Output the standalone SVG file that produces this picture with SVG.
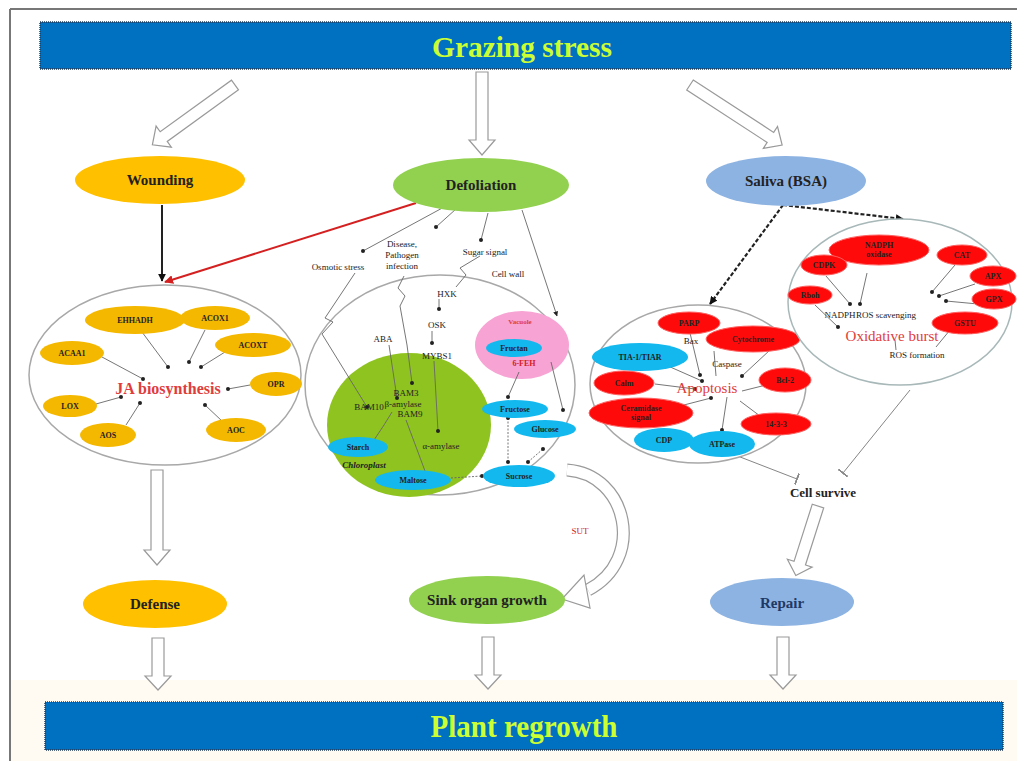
<svg xmlns="http://www.w3.org/2000/svg" width="1017" height="761" viewBox="0 0 1017 761">
<defs>
<style>
.bar{fill:#0070c0;stroke:#1f3b5c;stroke-width:1.5;stroke-dasharray:1 1}
.title{font-family:"Liberation Serif",serif;font-weight:bold;fill:#ccff33;text-anchor:middle}
.hollow{fill:#fff;stroke:#9a9a9a;stroke-width:1.2}
.big{fill:#fff;stroke:#a8a8a8;stroke-width:1.5}
.lbl{font-family:"Liberation Serif",serif;font-weight:bold;text-anchor:middle;fill:#222}
.node{font-size:15px}
.sm{font-size:8px}
.tx{font-family:"Liberation Serif",serif;font-size:9px;text-anchor:middle;fill:#222}
.red{font-family:"Liberation Serif",serif;font-weight:bold;text-anchor:middle;fill:#e03c3c}
.org{fill:#f5b800}
.rd{fill:#ff0a0a;stroke:#ff6060;stroke-width:1}
.bl{fill:#12b8ee}
.ln{stroke:#666;stroke-width:0.9;fill:none}
.lnd{stroke:#666;stroke-width:0.9;fill:none;marker-end:url(#dot)}
.lnt{stroke:#777;stroke-width:0.9;fill:none;marker-end:url(#tee)}
</style>
<marker id="dot" viewBox="0 0 6 6" refX="3" refY="3" markerWidth="4" markerHeight="4" markerUnits="userSpaceOnUse"><circle cx="3" cy="3" r="3" fill="#222"/></marker>
<marker id="tee" viewBox="0 0 2 12" refX="1" refY="6" markerWidth="2" markerHeight="12" orient="auto" markerUnits="userSpaceOnUse"><rect x="0" y="0" width="2" height="12" fill="#888"/></marker>
<marker id="arr" viewBox="0 0 10 10" refX="9" refY="5" markerWidth="8" markerHeight="8" orient="auto" markerUnits="userSpaceOnUse"><path d="M0,0 L10,5 L0,10 z" fill="#111"/></marker>
<marker id="arrR" viewBox="0 0 10 10" refX="9" refY="5" markerWidth="9" markerHeight="9" orient="auto" markerUnits="userSpaceOnUse"><path d="M0,0 L10,5 L0,10 z" fill="#d42020"/></marker>
<marker id="arrS" viewBox="0 0 10 10" refX="9" refY="5" markerWidth="5" markerHeight="5" orient="auto" markerUnits="userSpaceOnUse"><path d="M0,0 L10,5 L0,10 z" fill="#222"/></marker>
</defs>
<rect x="0" y="0" width="1017" height="761" fill="#fff"/>
<rect x="10" y="680" width="1007" height="81" fill="#fffaf2"/>
<line x1="10" y1="9" x2="1017" y2="9" stroke="#777" stroke-width="2"/>
<line x1="10" y1="9" x2="10" y2="761" stroke="#777" stroke-width="2"/>

<g id="grazing-stress">
<rect class="bar" x="40" y="22" width="971" height="47"/>
<text class="title" x="522" y="57" font-size="30" textLength="180" lengthAdjust="spacingAndGlyphs">Grazing stress</text>
</g>
<g id="plant-regrowth">
<rect class="bar" x="45" y="702" width="958" height="48"/>
<text class="title" x="524" y="737" font-size="31" textLength="187" lengthAdjust="spacingAndGlyphs">Plant regrowth</text>
</g>

<g id="connectors">
<path class="hollow" transform="translate(235,85) rotate(144.1)" d="M0,-6 H88 V-13 L102,0 L88,13 V6 H0 Z"/>
<path class="hollow" transform="translate(482,72) rotate(90)" d="M0,-6 H68 V-13 L83,0 L68,13 V6 H0 Z"/>
<path class="hollow" transform="translate(690,85) rotate(33.1)" d="M0,-6 H96 V-13 L110,0 L96,13 V6 H0 Z"/>
<path class="hollow" transform="translate(157,470) rotate(90)" d="M0,-6 H80 V-13 L95,0 L80,13 V6 H0 Z"/>
<path class="hollow" transform="translate(158,638) rotate(90)" d="M0,-6 H38 V-13 L52,0 L38,13 V6 H0 Z"/>
<path class="hollow" transform="translate(488,637) rotate(90)" d="M0,-6 H38 V-13 L52,0 L38,13 V6 H0 Z"/>
<path class="hollow" transform="translate(783,637) rotate(90)" d="M0,-6 H38 V-13 L52,0 L38,13 V6 H0 Z"/>
<path class="hollow" transform="translate(818,506) rotate(107.7)" d="M0,-6 H60 V-13 L73,0 L60,13 V6 H0 Z"/>
<path d="M567,470 C628,474 646,560 588,590" fill="none" stroke="#9a9a9a" stroke-width="13"/>
<path d="M567,470 C628,474 646,560 588,590" fill="none" stroke="#fff" stroke-width="10.6"/>
<polygon class="hollow" points="584,575 590,608 562,599"/>
<line x1="162" y1="205" x2="162" y2="281" stroke="#222" stroke-width="2" marker-end="url(#arr)"/>
<line x1="416" y1="203" x2="165" y2="282" stroke="#d42020" stroke-width="2" marker-end="url(#arrR)"/>
<line x1="783" y1="205" x2="710" y2="304" stroke="#222" stroke-width="2.2" stroke-dasharray="4 2" marker-end="url(#arr)"/>
<line x1="783" y1="205" x2="903" y2="219" stroke="#222" stroke-width="2.2" stroke-dasharray="4 2" marker-end="url(#arr)"/>
<line class="lnd" x1="446" y1="206" x2="363" y2="251"/>
<line class="lnd" x1="456" y1="209" x2="436" y2="227"/>
<line class="lnd" x1="488" y1="213" x2="481" y2="240"/>
<line class="ln" x1="522" y1="210" x2="557" y2="316" marker-end="url(#arrS)"/>
<line class="lnt" x1="735" y1="455" x2="797" y2="479"/>
<line class="lnt" x1="910" y1="390" x2="843" y2="473"/>
</g>

<g id="wounding"><ellipse cx="160" cy="180" rx="85" ry="24" fill="#ffc000"/><text class="lbl node" x="160" y="185">Wounding</text></g>
<g id="defoliation"><ellipse cx="481" cy="185" rx="88" ry="27" fill="#92d050"/><text class="lbl node" x="481" y="190">Defoliation</text></g>
<g id="saliva"><ellipse cx="786" cy="181" rx="80" ry="25" fill="#8db3e2"/><text class="lbl node" x="786" y="186">Saliva (BSA)</text></g>
<g id="defense"><ellipse cx="155" cy="604" rx="72" ry="24" fill="#ffc000"/><text class="lbl node" x="155" y="609">Defense</text></g>
<g id="sink-organ-growth"><ellipse cx="487" cy="600" rx="78" ry="24" fill="#92d050"/><text class="lbl node" x="487" y="605">Sink organ growth</text></g>
<g id="repair"><ellipse cx="782" cy="602" rx="72" ry="24" fill="#8db3e2"/><text class="lbl node" x="782" y="608" style="fill:#1f3864">Repair</text></g>
<g id="cell-survive"><text class="lbl" x="823" y="497" font-size="13">Cell survive</text></g>

<g id="ja-biosynthesis">
<ellipse class="big" cx="165" cy="375" rx="136" ry="90"/>
<line class="lnd" x1="142" y1="332" x2="168" y2="367"/>
<line class="lnd" x1="205" y1="330" x2="189" y2="362"/>
<line class="lnd" x1="225" y1="352" x2="201" y2="367"/>
<line class="lnd" x1="102" y1="357" x2="143" y2="379"/>
<line class="lnd" x1="250" y1="385" x2="228" y2="389"/>
<line class="lnd" x1="96" y1="404" x2="121" y2="397"/>
<line class="lnd" x1="126" y1="425" x2="140" y2="403"/>
<line class="lnd" x1="222" y1="421" x2="205" y2="405"/>
<ellipse class="org" cx="135" cy="320" rx="50" ry="14"/><text class="lbl sm" x="135" y="323">EHHADH</text>
<ellipse class="org" cx="215" cy="318" rx="35" ry="12"/><text class="lbl sm" x="215" y="321">ACOX1</text>
<ellipse class="org" cx="253" cy="345" rx="38" ry="12"/><text class="lbl sm" x="253" y="348">ACOXT</text>
<ellipse class="org" cx="72" cy="353" rx="32" ry="12"/><text class="lbl sm" x="72" y="356">ACAA1</text>
<ellipse class="org" cx="276" cy="384" rx="26" ry="12"/><text class="lbl sm" x="276" y="387">OPR</text>
<ellipse class="org" cx="70" cy="406" rx="27" ry="11"/><text class="lbl sm" x="70" y="409">LOX</text>
<ellipse class="org" cx="108" cy="435" rx="28" ry="12"/><text class="lbl sm" x="108" y="438">AOS</text>
<ellipse class="org" cx="236" cy="430" rx="30" ry="12"/><text class="lbl sm" x="236" y="433">AOC</text>
<text class="red" x="168" y="394" font-size="16">JA biosynthesis</text>
</g>

<g id="defoliation-cell">
<text class="tx" x="338" y="270">Osmotic stress</text>
<text class="tx" x="402" y="247">Disease,</text>
<text class="tx" x="402" y="258">Pathogen</text>
<text class="tx" x="402" y="269">infection</text>
<text class="tx" x="485" y="255">Sugar signal</text>
<text class="tx" x="508" y="277">Cell wall</text>
<ellipse class="big" cx="440" cy="385" rx="135" ry="110"/>
<ellipse cx="522" cy="345" rx="47" ry="34" fill="#f7a3d4"/>
<ellipse cx="409" cy="425" rx="82" ry="72" fill="#8fc31f"/>
<polyline class="ln" points="480,256 460,268 466,275 456,287"/>
<polyline class="lnd" points="355,273 325,318 333,322 322,334 367,407"/>
<polyline class="lnd" points="404,276 398,288 405,296 400,306 407,345 412,383"/>
<line class="lnd" x1="439" y1="299" x2="439" y2="309"/>
<line class="lnd" x1="432" y1="331" x2="432" y2="343"/>
<line class="lnd" x1="434" y1="361" x2="438" y2="431"/>
<line class="lnd" x1="389" y1="345" x2="397" y2="398"/>
<polyline class="ln" points="392,412 384,425 374,440"/>
<line class="ln" x1="406" y1="420" x2="425" y2="471"/>
<line class="ln" x1="451" y1="478" x2="482" y2="476" stroke-dasharray="2 1.5" marker-end="url(#dot)"/>
<line class="lnd" x1="519" y1="372" x2="508" y2="397"/>
<line class="lnd" x1="551" y1="362" x2="563" y2="410"/>
<line class="ln" x1="508" y1="418" x2="508" y2="462" stroke-dasharray="2 1.5" marker-start="url(#dot)" marker-end="url(#dot)"/>
<line class="ln" x1="528" y1="462" x2="543" y2="449" stroke-dasharray="2 1.5" marker-start="url(#dot)" marker-end="url(#dot)"/>
<text class="tx" x="447" y="297">HXK</text>
<text class="tx" x="437" y="328">OSK</text>
<text class="tx" x="383" y="342">ABA</text>
<text class="tx" x="437" y="359">MYBS1</text>
<text class="tx" x="406" y="396" font-size="8">BAM3</text>
<text class="tx" x="403" y="407" font-size="8">β-amylase</text>
<text class="tx" x="410" y="417" font-size="8">BAM9</text>
<text class="tx" x="369" y="410" font-size="8">BAM10</text>
<text class="tx" x="441" y="449" font-size="8">α-amylase</text>
<text class="red" x="520" y="324" font-size="7">Vacuole</text>
<ellipse class="bl" cx="514" cy="348" rx="28" ry="9"/><text class="lbl sm" x="514" y="351">Fructan</text>
<text class="lbl sm" x="524" y="366" style="fill:#d42020">6-FEH</text>
<ellipse class="bl" cx="515" cy="409" rx="33" ry="9"/><text class="lbl sm" x="515" y="412">Fructose</text>
<ellipse class="bl" cx="545" cy="429" rx="31" ry="9"/><text class="lbl sm" x="545" y="432">Glucose</text>
<ellipse class="bl" cx="519" cy="476" rx="36" ry="11"/><text class="lbl sm" x="519" y="479">Sucrose</text>
<ellipse class="bl" cx="358" cy="447" rx="30" ry="10"/><text class="lbl sm" x="358" y="450">Starch</text>
<ellipse class="bl" cx="413" cy="480" rx="38" ry="10"/><text class="lbl sm" x="413" y="483">Maltose</text>
<text class="tx" x="364" y="468" font-style="italic" font-weight="bold" font-size="8">Chloroplast</text>
<text class="tx" x="580" y="534" font-size="8" style="fill:#d42020">SUT</text>
</g>

<g id="apoptosis">
<ellipse class="big" cx="698" cy="384" rx="108" ry="79"/>
<line class="lnd" x1="690" y1="333" x2="700" y2="375"/>
<line class="lnd" x1="668" y1="366" x2="702" y2="381"/>
<line class="lnd" x1="655" y1="384" x2="695" y2="389"/>
<line class="lnd" x1="680" y1="406" x2="711" y2="398"/>
<line class="lnd" x1="727" y1="397" x2="722" y2="430"/>
<line class="lnd" x1="770" y1="350" x2="742" y2="376"/>
<line class="ln" x1="766" y1="385" x2="742" y2="391"/>
<line class="ln" x1="760" y1="416" x2="740" y2="401"/>
<line class="ln" x1="714" y1="351" x2="716" y2="376"/>
<ellipse class="rd" cx="689" cy="323" rx="31" ry="11"/><text class="lbl sm" x="689" y="326">PARP</text>
<ellipse class="rd" cx="753" cy="339" rx="47" ry="13"/><text class="lbl sm" x="753" y="342">Cytochrome</text>
<ellipse class="bl" cx="640" cy="357" rx="48" ry="14"/><text class="lbl sm" x="640" y="360">TIA-1/TIAR</text>
<ellipse class="rd" cx="624" cy="383" rx="30" ry="12"/><text class="lbl sm" x="624" y="386">Calm</text>
<ellipse class="rd" cx="785" cy="380" rx="26" ry="12"/><text class="lbl sm" x="785" y="383">Bcl-2</text>
<ellipse class="rd" cx="641" cy="413" rx="52" ry="15"/><text class="lbl sm" x="641" y="411">Ceramidase</text><text class="lbl sm" x="641" y="420">signal</text>
<ellipse class="rd" cx="776" cy="424" rx="35" ry="11"/><text class="lbl sm" x="776" y="427">14-3-3</text>
<ellipse class="bl" cx="664" cy="440" rx="30" ry="12"/><text class="lbl sm" x="664" y="443">CDP</text>
<ellipse class="bl" cx="722" cy="444" rx="33" ry="13"/><text class="lbl sm" x="722" y="447">ATPase</text>
<text class="tx" x="691" y="344" font-size="7">Bax</text>
<text class="tx" x="727" y="367" font-size="7">Caspase</text>
<text class="red" x="707" y="393" font-size="15" style="font-weight:normal">Apoptosis</text>
</g>

<g id="oxidative-burst">
<ellipse class="big" cx="900" cy="302" rx="112" ry="83" style="stroke:#a8b8b8"/>
<line class="lnd" x1="867" y1="273" x2="860" y2="304"/>
<line class="lnd" x1="826" y1="276" x2="850" y2="304"/>
<line class="lnd" x1="815" y1="305" x2="838" y2="327"/>
<line class="lnd" x1="955" y1="265" x2="932" y2="292"/>
<line class="lnd" x1="975" y1="284" x2="939" y2="296"/>
<line class="lnd" x1="978" y1="304" x2="946" y2="301"/>
<line class="ln" x1="895" y1="340" x2="896" y2="350"/>
<line class="ln" x1="950" y1="330" x2="936" y2="347"/>
<ellipse class="rd" cx="879" cy="250" rx="50" ry="15"/><text class="lbl sm" x="879" y="248">NADPH</text><text class="lbl sm" x="879" y="257">oxidase</text>
<ellipse class="rd" cx="824" cy="265" rx="23" ry="10"/><text class="lbl sm" x="824" y="268">CDPK</text>
<ellipse class="rd" cx="810" cy="295" rx="22" ry="9"/><text class="lbl sm" x="810" y="298">Rboh</text>
<ellipse class="rd" cx="962" cy="255" rx="25" ry="10"/><text class="lbl sm" x="962" y="258">CAT</text>
<ellipse class="rd" cx="993" cy="276" rx="23" ry="10"/><text class="lbl sm" x="993" y="279">APX</text>
<ellipse class="rd" cx="994" cy="299" rx="22" ry="10"/><text class="lbl sm" x="994" y="302">GPX</text>
<ellipse class="rd" cx="965" cy="323" rx="33" ry="11"/><text class="lbl sm" x="965" y="326">GSTU</text>
<text class="tx" x="840" y="318" font-size="8">NADPH</text>
<text class="tx" x="886" y="318" font-size="8">ROS scavenging</text>
<text class="red" x="892" y="341" font-size="15" style="font-weight:normal">Oxidative burst</text>
<text class="tx" x="917" y="358" font-size="8">ROS formation</text>
</g>
</svg>
